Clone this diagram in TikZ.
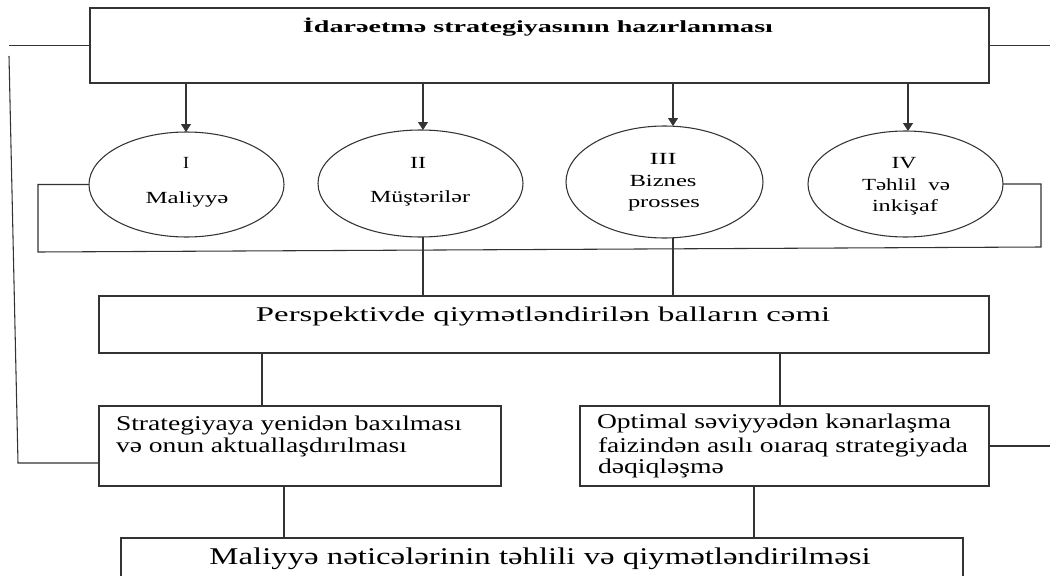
\documentclass[tikz,border=0pt]{standalone}
\usepackage{fontspec}
\setmainfont{Liberation Serif}
\usepackage{graphicx}
\usetikzlibrary{shapes.geometric,arrows.meta}
\newdimen\pxu \pxu=0.75pt
\newcommand\wl[2]{\resizebox{#1\pxu}{\height}{#2}}
\begin{document}
\begin{tikzpicture}[x=0.75pt,y=-0.75pt,
  ln/.style={draw=black!80,line width=0.8pt},
  box/.style={ln,rectangle,inner sep=0pt,outer sep=0pt,fill=white},
  ell/.style={ln,ellipse,inner sep=0pt,outer sep=0pt},
  arr/.style={ln,-{Triangle[width=7.5pt,length=6pt]}},
  txt/.style={inner sep=0pt,outer sep=0pt,text=black},
  etxt/.style={txt,anchor=base,font=\fontsize{12.75pt}{14pt}\selectfont},
  btxt/.style={txt,anchor=base west,font=\fontsize{15.75pt}{18pt}\selectfont}]
\useasboundingbox (0,0) rectangle (1050,575);
% boxes
\node[box,minimum width=674.25pt,minimum height=56.25pt] (T) at (539.5,45.5) {};
\node[box,minimum width=667.5pt,minimum height=42.75pt] (P) at (544,324.5) {};
\node[box,minimum width=301.5pt,minimum height=60pt] (S) at (300,446) {};
\node[box,minimum width=306.75pt,minimum height=60pt] (O) at (784.5,446) {};
\node[box,minimum width=631.5pt,minimum height=46.5pt] (B) at (542,569) {};
% ellipses
\node[ell,minimum width=146.25pt,minimum height=78.75pt] (E1) at (186.5,184.5) {};
\node[ell,minimum width=153.75pt,minimum height=80.25pt] (E2) at (420.5,183.5) {};
\node[ell,minimum width=147.75pt,minimum height=84pt] (E3) at (664.5,182) {};
\node[ell,minimum width=146.25pt,minimum height=79.5pt] (E4) at (905.5,184) {};
% texts
\node[txt,anchor=base,font=\bfseries\fontsize{12.75pt}{14pt}\selectfont] (tT) at (538,32) {\wl{470}{İdarəetmə strategiyasının hazırlanması}};
\node[etxt] (t1a) at (186,168) {\wl{6}{I}};
\node[etxt] (t1b) at (187,203) {\wl{83}{Maliyyə}};
\node[etxt] (t2a) at (418,168) {\wl{16}{II}};
\node[etxt] (t2b) at (420,202) {\wl{100}{Müştərilər}};
\node[etxt] (t3a) at (663,164) {\wl{27}{III}};
\node[etxt] (t3b) at (663,186) {\wl{67}{Biznes}};
\node[etxt] (t3c) at (664,207) {\wl{72}{prosses}};
\node[etxt] (t4a) at (904,168) {\wl{25}{IV}};
\node[etxt] (t4b) at (906,190) {\wl{88}{Təhlil\ \ və}};
\node[etxt] (t4c) at (905,211) {\wl{66}{inkişaf}};
\node[txt,anchor=base,font=\fontsize{15.75pt}{18pt}\selectfont] (tP) at (543,321) {\wl{574}{Perspektivde qiymətləndirilən balların cəmi}};
\node[btxt] (tS1) at (116,430) {\wl{346}{Strategiyaya yenidən baxılması}};
\node[btxt] (tS2) at (116,452) {\wl{291}{və onun aktuallaşdırılması}};
\node[btxt] (tO1) at (597,428) {\wl{354}{Optimal səviyyədən kənarlaşma}};
\node[btxt] (tO2) at (598,452) {\wl{370}{faizindən asılı oıaraq strategiyada}};
\node[btxt] (tO3) at (598,473) {\wl{126}{dəqiqləşmə}};
\node[txt,anchor=base,font=\fontsize{18pt}{20pt}\selectfont] (tB) at (540,564) {\wl{661}{Maliyyə nəticələrinin təhlili və qiymətləndirilməsi}};
% coordinates
\coordinate (Lend) at (9,48);
\coordinate (Rend) at (1050,48);
\coordinate (Ltop) at (9,56);
\coordinate (Lbot) at (18,463);
\coordinate (Oend) at (1050,446);
\coordinate (a1) at (186,83);
\coordinate (a2) at (423,83);
\coordinate (a3) at (673,83);
\coordinate (a4) at (908,83);
\coordinate (f1) at (38,184);
\coordinate (f2) at (38,252);
\coordinate (f3) at (1041,247);
\coordinate (e2b) at (423,237);
\coordinate (e3b) at (673,238);
\coordinate (p1) at (262,353);
\coordinate (p2) at (780,353);
\coordinate (s1) at (284,486);
\coordinate (o1) at (754,486);
% connectors
\draw[ln] (T.west) -- (T.west -| Lend);
\draw[ln] (T.east) -- (T.east -| Rend);
\draw[ln] (Ltop) -- (Lbot) -- (Lbot -| S.west);
\draw[ln] (O.east) -- (Oend);
\draw[arr] (a1) -- (a1 |- E1.north);
\draw[arr] (a2) -- (a2 |- E2.north);
\draw[arr] (a3) -- (a3 |- E3.north);
\draw[arr] (a4) -- (a4 |- E4.north);
\draw[ln] (E1.west) -- (E1.west -| f1) -- (f2) -- (f3) -- (f3 |- E4.east) -- (E4.east);
\draw[ln] (e2b) -- (e2b |- P.north);
\draw[ln] (e3b) -- (e3b |- P.north);
\draw[ln] (p1) -- (p1 |- S.north);
\draw[ln] (p2) -- (p2 |- O.north);
\draw[ln] (s1) -- (s1 |- B.north);
\draw[ln] (o1) -- (o1 |- B.north);
\end{tikzpicture}
\end{document}
